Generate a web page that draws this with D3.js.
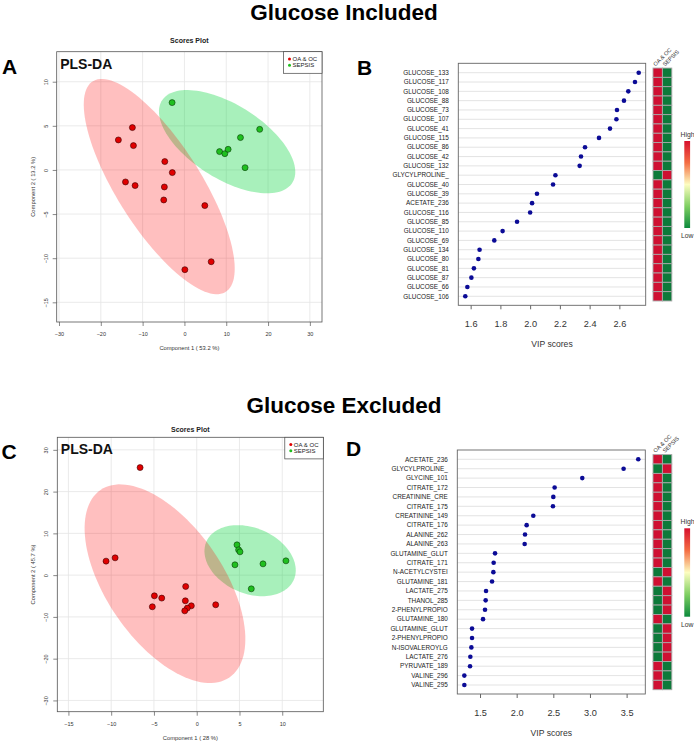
<!DOCTYPE html>
<html><head><meta charset="utf-8">
<script src="https://cdn.jsdelivr.net/npm/d3@7"></script>
<style>
body{margin:0;background:#fff}
svg{display:block;font-family:"Liberation Sans",Arial,sans-serif}
</style>
</head><body>
<svg id="c" width="694" height="742"></svg>
<script>
// ---------------- DATA ----------------
const groupNames = ["OA & OC", "SEPSIS"];

// Panel A (glucose included) PLS-DA scores
const aRedX = [-15.8,-12.45,-12.2,-4.7,-2.9,-14.1,-11.8,-4.8,-4.95,4.87,6.4,0.1];
const aRedY = [3.4,4.8,2.76,0.95,-0.3,-1.36,-1.77,-1.93,-3.4,-4.04,-10.4,-11.3];
const aGreenX = [-2.95,8.4,9.66,10.45,13.4,18.0,14.5];
const aGreenY = [7.63,2.08,1.85,2.34,3.67,4.6,0.26];
const aXTicks = [-30,-20,-10,0,10,20,30];
const aYTicks = [-15,-10,-5,0,5,10];

// Panel C (glucose excluded) PLS-DA scores
const cRedX = [-6.62,-10.6,-9.54,-4.95,-4.09,-5.19,-1.29,-1.33,-0.63,-1.1,-1.4,2.22];
const cRedY = [25.75,3.35,4.14,-4.95,-5.5,-7.58,-2.72,-6.15,-7.35,-7.9,-8.55,-7.1];
const cGreenX = [4.71,4.9,5.06,4.47,7.75,10.43,6.38];
const cGreenY = [7.25,6.05,5.58,2.47,2.7,3.42,-3.28];
const cXTicks = [-15,-10,-5,0,5,10];
const cYTicks = [-30,-20,-10,0,10,20,30];

// Panel B VIP
const bLabels = ["GLUCOSE_133","GLUCOSE_117","GLUCOSE_108","GLUCOSE_88","GLUCOSE_73","GLUCOSE_107","GLUCOSE_41","GLUCOSE_115","GLUCOSE_86","GLUCOSE_42","GLUCOSE_132","GLYCYLPROLINE_","GLUCOSE_40","GLUCOSE_39","ACETATE_236","GLUCOSE_116","GLUCOSE_85","GLUCOSE_110","GLUCOSE_69","GLUCOSE_134","GLUCOSE_80","GLUCOSE_81","GLUCOSE_87","GLUCOSE_66","GLUCOSE_106"];
const bValues = [2.73,2.705,2.66,2.631,2.584,2.58,2.537,2.463,2.369,2.342,2.333,2.17,2.154,2.046,2.013,2.0,1.912,1.815,1.759,1.66,1.652,1.622,1.605,1.578,1.564];
const bOaHigh = [1,1,1,1,1,1,1,1,1,1,1,0,1,1,1,1,1,1,1,1,1,1,1,1,1];
const bTicks = [1.6,1.8,2.0,2.2,2.4,2.6];

// Panel D VIP
const dLabels = ["ACETATE_236","GLYCYLPROLINE_","GLYCINE_101","CITRATE_172","CREATININE_CRE","CITRATE_175","CREATININE_149","CITRATE_176","ALANINE_262","ALANINE_263","GLUTAMINE_GLUT","CITRATE_171","N-ACETYLCYSTEI","GLUTAMINE_181","LACTATE_275","THANOL_285","2-PHENYLPROPIO","GLUTAMINE_180","GLUTAMINE_GLUT","2-PHENYLPROPIO","N-ISOVALEROYLG","LACTATE_276","PYRUVATE_189","VALINE_296","VALINE_295"];
const dValues = [3.659,3.459,2.895,2.518,2.5,2.495,2.227,2.136,2.114,2.109,1.705,1.686,1.682,1.664,1.582,1.577,1.568,1.541,1.391,1.391,1.382,1.368,1.364,1.286,1.286];
const dOaHigh = [1,0,1,1,1,1,1,1,1,1,1,1,0,1,0,0,0,1,0,0,0,0,1,1,1];
const dTicks = [1.5,2.0,2.5,3.0,3.5];

// ---------------- DRAWING ----------------
const svg = d3.select("#c");
svg.append("rect").attr("width",694).attr("height",742).attr("fill","#fff");
const defs = svg.append("defs");

const RED_PT = "#e00000", GREEN_PT = "#1fbf1f";
const HEAT_HI = "#cf1032", HEAT_LO = "#0d7a3a";

function ellipse95(xs, ys, n=120){
  const m = xs.length;
  const mx = d3.mean(xs), my = d3.mean(ys);
  let sxx=0, syy=0, sxy=0;
  for(let i=0;i<m;i++){const dx=xs[i]-mx, dy=ys[i]-my; sxx+=dx*dx; syy+=dy*dy; sxy+=dx*dy;}
  sxx/=(m-1); syy/=(m-1); sxy/=(m-1);
  const tr=sxx+syy, det=sxx*syy-sxy*sxy;
  const disc=Math.sqrt(Math.max(0,tr*tr/4-det));
  const l1=tr/2+disc, l2=tr/2-disc;
  let e1=[sxy, l1-sxx];
  if(Math.abs(sxy)<1e-12) e1 = sxx>=syy?[1,0]:[0,1];
  const nn=Math.hypot(e1[0],e1[1]); e1=[e1[0]/nn,e1[1]/nn];
  const e2=[-e1[1],e1[0]];
  const r=Math.sqrt(5.991464547);
  const pts=[];
  for(let k=0;k<n;k++){
    const t=2*Math.PI*k/n, a=r*Math.sqrt(l1)*Math.cos(t), b=r*Math.sqrt(Math.max(l2,0))*Math.sin(t);
    pts.push([mx+a*e1[0]+b*e2[0], my+a*e1[1]+b*e2[1]]);
  }
  return pts;
}

function drawScatter(c){
  const g = svg.append("g");
  const x = d3.scaleLinear().domain(c.xDom).range([c.l,c.r]);
  const y = d3.scaleLinear().domain(c.yDom).range([c.b,c.t]);
  const cid = "clip"+c.id;
  defs.append("clipPath").attr("id",cid).append("rect")
    .attr("x",c.l).attr("y",c.t).attr("width",c.r-c.l).attr("height",c.b-c.t);
  const inner = g.append("g").attr("clip-path",`url(#${cid})`);
  // grid
  inner.selectAll(".gx").data(c.xTicks).join("line")
    .attr("x1",d=>x(d)).attr("x2",d=>x(d)).attr("y1",c.t).attr("y2",c.b)
    .attr("stroke","#e4e4e4").attr("stroke-width",0.8);
  inner.selectAll(".gy").data(c.yTicks).join("line")
    .attr("y1",d=>y(d)).attr("y2",d=>y(d)).attr("x1",c.l).attr("x2",c.r)
    .attr("stroke","#e4e4e4").attr("stroke-width",0.8);
  const line = d3.line().x(d=>x(d[0])).y(d=>y(d[1])).curve(d3.curveLinearClosed);
  inner.append("path").attr("d",line(ellipse95(c.gx,c.gy))).attr("fill","rgb(0,210,55)").attr("fill-opacity",0.34);
  inner.append("path").attr("d",line(ellipse95(c.rx,c.ry))).attr("fill","rgb(255,0,0)").attr("fill-opacity",0.25);
  // points
  inner.selectAll(".pr").data(c.rx.map((v,i)=>[v,c.ry[i]])).join("circle")
    .attr("cx",d=>x(d[0])).attr("cy",d=>y(d[1])).attr("r",3)
    .attr("fill",RED_PT).attr("stroke","#3a0000").attr("stroke-width",0.6);
  inner.selectAll(".pg").data(c.gx.map((v,i)=>[v,c.gy[i]])).join("circle")
    .attr("cx",d=>x(d[0])).attr("cy",d=>y(d[1])).attr("r",3)
    .attr("fill",GREEN_PT).attr("stroke","#063a06").attr("stroke-width",0.6);
  // box
  g.append("rect").attr("x",c.l).attr("y",c.t).attr("width",c.r-c.l).attr("height",c.b-c.t)
    .attr("fill","none").attr("stroke","#555").attr("stroke-width",0.8);
  // axes
  const ax = g.append("g").attr("transform",`translate(0,${c.b})`)
    .call(d3.axisBottom(x).tickValues(c.xTicks).tickSize(4).tickPadding(6));
  ax.select(".domain").remove();
  ax.selectAll("line").attr("stroke","#555").attr("stroke-width",0.7);
  ax.selectAll("text").attr("font-size",5.5).attr("fill","#333").attr("font-family","Liberation Sans, Arial");
  const ay = g.append("g").attr("transform",`translate(${c.l},0)`)
    .call(d3.axisLeft(y).tickValues(c.yTicks).tickSize(4));
  ay.select(".domain").remove();
  ay.selectAll("line").attr("stroke","#555").attr("stroke-width",0.7);
  ay.selectAll("text").attr("x",0).attr("dy",0).attr("text-anchor","middle")
    .attr("transform",`translate(${-c.yTickOff},0) rotate(-90)`)
    .attr("font-size",5.5).attr("fill","#333").attr("font-family","Liberation Sans, Arial");
  // labels
  g.append("text").attr("x",(c.l+c.r)/2).attr("y",c.titleY).attr("text-anchor","middle")
    .attr("font-size",7).attr("font-weight","bold").attr("fill","#222").text("Scores Plot");
  g.append("text").attr("x",(c.l+c.r)/2).attr("y",c.xLabY).attr("text-anchor","middle")
    .attr("font-size",5.8).attr("fill","#333").text(c.xLab);
  g.append("text").attr("transform",`translate(${c.yLabX},${(c.t+c.b)/2}) rotate(-90)`).attr("text-anchor","middle")
    .attr("font-size",5.8).attr("fill","#333").text(c.yLab);
  g.append("text").attr("x",c.l+3.5).attr("y",c.t+16.8).attr("font-size",14).attr("font-weight","bold")
    .attr("fill","#111").text("PLS-DA");
  // legend
  const lg = g.append("g");
  lg.append("rect").attr("x",c.r-38.5).attr("y",c.t).attr("width",38.5).attr("height",21.6)
    .attr("fill","#fff").attr("stroke","#444").attr("stroke-width",0.7);
  [RED_PT, GREEN_PT].forEach((col,i)=>{
    lg.append("circle").attr("cx",c.r-32.5).attr("cy",c.t+7.3+i*6.2).attr("r",1.5).attr("fill",col);
    lg.append("text").attr("x",c.r-29.5).attr("y",c.t+9.4+i*6.2).attr("font-size",6).attr("fill","#222").text(groupNames[i]);
  });
  // panel letter
  svg.append("text").attr("x",c.letterX).attr("y",c.letterY).attr("font-size",21).attr("font-weight","bold").attr("fill","#000").text(c.letter);
}

function drawVip(c){
  const g = svg.append("g");
  const x = d3.scaleLinear().domain(c.xDom).range([c.l,c.r]);
  const idx = d3.range(c.labels.length);
  const y = d3.scalePoint().domain(idx).range([c.rowTop,c.rowBot]);
  const step = y.step();
  // row lines
  g.selectAll(".rl").data(idx).join("line")
    .attr("x1",c.l).attr("x2",c.r).attr("y1",d=>y(d)).attr("y2",d=>y(d))
    .attr("stroke","#dcdcdc").attr("stroke-width",0.8);
  // box
  g.append("rect").attr("x",c.l).attr("y",c.t).attr("width",c.r-c.l).attr("height",c.b-c.t)
    .attr("fill","none").attr("stroke","#666").attr("stroke-width",0.9);
  // dots
  g.selectAll(".dt").data(idx).join("circle")
    .attr("cx",d=>x(c.values[d])).attr("cy",d=>y(d)).attr("r",2.3).attr("fill","#0b0b96");
  // labels
  g.selectAll(".lb").data(idx).join("text")
    .attr("x",c.l-9.5).attr("y",d=>y(d)+2.2).attr("text-anchor","end")
    .attr("font-size",6.4).attr("fill","#222").text(d=>c.labels[d]);
  // axis
  const ax = g.append("g").attr("transform",`translate(0,${c.b})`)
    .call(d3.axisBottom(x).tickValues(c.ticks).tickSize(4).tickPadding(11).tickFormat(d3.format(".1f")));
  ax.select(".domain").remove();
  ax.selectAll("line").attr("stroke","#666");
  ax.selectAll("text").attr("font-size",9.2).attr("fill","#333").attr("font-family","Liberation Sans, Arial");
  g.append("text").attr("x",(c.l+c.r)/2).attr("y",c.b+42).attr("text-anchor","middle")
    .attr("font-size",8.6).attr("fill","#333").text("VIP scores");
  // heatmap
  const hx0 = 653, cw = 9.4;
  idx.forEach(i=>{
    [c.oaHigh[i], 1-c.oaHigh[i]].forEach((v,j)=>{
      g.append("rect").attr("x",hx0+j*cw).attr("y",y(i)-step/2).attr("width",cw).attr("height",step)
        .attr("fill",v?HEAT_HI:HEAT_LO).attr("stroke","#a8a8a8").attr("stroke-width",0.9);
    });
  });
  const htop = y(0)-step/2;
  groupNames.forEach((n,j)=>{
    g.append("text").attr("transform",`translate(${hx0+j*cw+2.6},${htop-1.5}) rotate(-45)`)
      .attr("font-size",5.6).attr("fill","#333").text(n);
  });
  // color key
  const gid = "grad"+c.id;
  const gr = defs.append("linearGradient").attr("id",gid).attr("x1",0).attr("y1",0).attr("x2",0).attr("y2",1);
  [["0%","#d7102e"],["25%","#f46d43"],["50%","#fdfdc0"],["75%","#7fcf62"],["100%","#0c8a3c"]]
    .forEach(s=>gr.append("stop").attr("offset",s[0]).attr("stop-color",s[1]));
  g.append("rect").attr("x",684.3).attr("y",c.keyTop).attr("width",5.8).attr("height",c.keyBot-c.keyTop)
    .attr("fill",`url(#${gid})`);
  g.append("text").attr("x",680.5).attr("y",c.keyTop-4.5).attr("font-size",6.8).attr("fill","#333").text("High");
  g.append("text").attr("x",681).attr("y",c.keyBot+10).attr("font-size",6.8).attr("fill","#333").text("Low");
  svg.append("text").attr("x",c.letterX).attr("y",c.letterY).attr("font-size",21).attr("font-weight","bold").attr("fill","#000").text(c.letter);
}

// main titles
svg.append("text").attr("x",344).attr("y",20.2).attr("text-anchor","middle").attr("font-size",22.5)
  .attr("font-weight","bold").attr("fill","#000").text("Glucose Included");
svg.append("text").attr("x",344).attr("y",413).attr("text-anchor","middle").attr("font-size",22.5)
  .attr("font-weight","bold").attr("fill","#000").text("Glucose Excluded");

drawScatter({id:"A", l:56.7, r:322, t:51.7, b:322, xDom:[-30.55,32.9], yDom:[-17.23,13.4],
  xTicks:aXTicks, yTicks:aYTicks, rx:aRedX, ry:aRedY, gx:aGreenX, gy:aGreenY,
  titleY:42.5, xLabY:350, yLabX:35, yTickOff:9, xLab:"Component 1 ( 53.2 %)", yLab:"Component 2 ( 13.2 %)",
  letter:"A", letterX:2, letterY:73.5});
drawScatter({id:"C", l:57.3, r:323.3, t:437.3, b:711.7, xDom:[-16.3,14.8], yDom:[-32.7,33.0],
  xTicks:cXTicks, yTicks:cYTicks, rx:cRedX, ry:cRedY, gx:cGreenX, gy:cGreenY,
  titleY:431.5, xLabY:740, yLabX:35, yTickOff:9, xLab:"Component 1 ( 28 %)", yLab:"Component 2 ( 45.7 %)",
  letter:"C", letterX:1.5, letterY:458.5});
drawVip({id:"B", l:458.3, r:645.7, t:63.3, b:305.3, rowTop:72.7, rowBot:296.3, xDom:[1.517,2.777],
  labels:bLabels, values:bValues, oaHigh:bOaHigh, ticks:bTicks, keyTop:141, keyBot:228,
  letter:"B", letterX:357, letterY:75});
drawVip({id:"D", l:457.3, r:645.3, t:450, b:694, rowTop:459.3, rowBot:685, xDom:[1.19,3.755],
  labels:dLabels, values:dValues, oaHigh:dOaHigh, ticks:dTicks, keyTop:528.3, keyBot:616.7,
  letter:"D", letterX:346, letterY:455.5});
</script>
</body></html>
